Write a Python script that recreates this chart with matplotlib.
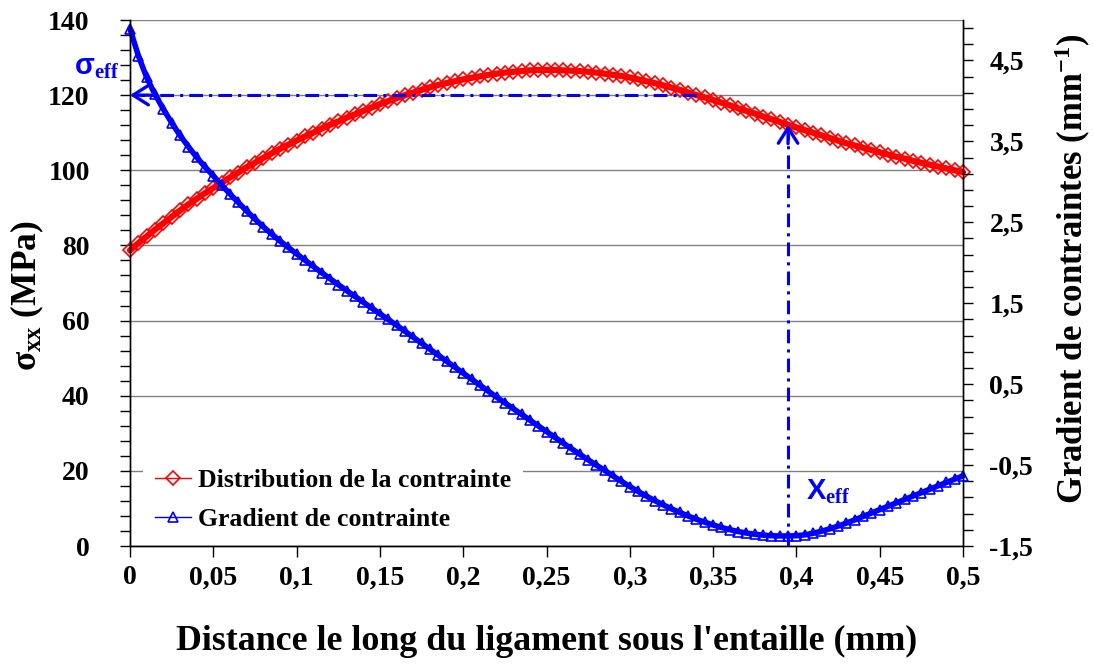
import numpy as np
import matplotlib.pyplot as plt
from matplotlib.ticker import FixedLocator, MultipleLocator, FuncFormatter

# --- Style ---
plt.rcParams['font.family'] = 'Liberation Serif'
plt.rcParams['font.weight'] = 'bold'
plt.rcParams['axes.labelweight'] = 'bold'
plt.rcParams['mathtext.fontset'] = 'custom'
plt.rcParams['mathtext.rm'] = 'Liberation Serif:bold'
plt.rcParams['mathtext.bf'] = 'Liberation Serif:bold'
plt.rcParams['mathtext.it'] = 'Liberation Serif:bold'

# --- Data: distance along the ligament (mm), step 0.005 mm ---
distance = np.linspace(0.0, 0.5, 101)

# sigma_xx (MPa)
sigma_xx = [
    78.7, 80.6, 82.4, 84.2, 85.9, 87.6, 89.3, 90.9, 92.4, 93.9,
    95.3, 96.7, 98.1, 99.4, 100.8, 102.0, 103.3, 104.5, 105.7, 106.8,
    107.9, 109.0, 110.0, 111.1, 112.1, 113.0, 114.0, 114.9, 115.8, 116.7,
    117.6, 118.4, 119.2, 120.0, 120.7, 121.4, 122.1, 122.7, 123.2, 123.7,
    124.2, 124.6, 125.0, 125.4, 125.7, 126.0, 126.2, 126.4, 126.6, 126.7,
    126.7, 126.7, 126.6, 126.5, 126.4, 126.2, 126.0, 125.7, 125.4, 125.1,
    124.7, 124.2, 123.7, 123.2, 122.6, 122.0, 121.4, 120.7, 120.0, 119.4,
    118.7, 118.0, 117.3, 116.5, 115.8, 115.1, 114.3, 113.6, 112.9, 112.1,
    111.4, 110.7, 110.0, 109.3, 108.6, 107.9, 107.2, 106.6, 106.0, 105.4,
    104.8, 104.2, 103.6, 103.1, 102.5, 102.0, 101.5, 101.0, 100.5, 100.0,
    99.5,
]

# stress gradient (mm^-1)
gradient = [
    4.89, 4.56, 4.29, 4.08, 3.90, 3.73, 3.575, 3.435, 3.305, 3.185,
    3.075, 2.96, 2.85, 2.745, 2.64, 2.54, 2.445, 2.355, 2.27, 2.19,
    2.11, 2.032, 1.955, 1.879, 1.804, 1.73, 1.657, 1.585, 1.513, 1.441,
    1.37, 1.299, 1.228, 1.154, 1.080, 1.006, 0.932, 0.858, 0.784, 0.71,
    0.636, 0.562, 0.488, 0.414, 0.340, 0.269, 0.198, 0.127, 0.056, -0.015,
    -0.086, -0.157, -0.228, -0.298, -0.367, -0.435, -0.502, -0.567, -0.635, -0.701,
    -0.765, -0.826, -0.884, -0.939, -0.991, -1.04, -1.086, -1.129, -1.169, -1.206,
    -1.24, -1.271, -1.298, -1.321, -1.34, -1.355, -1.366, -1.373, -1.376, -1.376,
    -1.373, -1.362, -1.343, -1.318, -1.288, -1.254, -1.217, -1.177, -1.135, -1.093,
    -1.051, -1.009, -0.967, -0.925, -0.883, -0.841, -0.799, -0.757, -0.715, -0.674,
    -0.633,
]

# effective stress / effective distance
sigma_eff = 120.0
x_sigma_end = 0.34
x_eff = 0.395
sigma_at_xeff = 112.1

x_ticks = [0, 0.05, 0.1, 0.15, 0.2, 0.25, 0.3, 0.35, 0.4, 0.45, 0.5]
left_ticks = [0, 20, 40, 60, 80, 100, 120, 140]
right_ticks = [-1.5, -0.5, 0.5, 1.5, 2.5, 3.5, 4.5]

RED = '#ff0000'
BLUE = '#0000ff'
comma = FuncFormatter(lambda v, p: f'{v:g}'.replace('.', ','))

fig = plt.figure(figsize=(10.94, 6.64), dpi=100)
ax = fig.add_axes([130 / 1094, 1 - 546 / 664, 833 / 1094, 526 / 664])
ax2 = ax.twinx()

# dense marker bands: a wide stroke under the open markers
ax.plot(distance, sigma_xx, color=RED, lw=4.5, solid_capstyle='round',
        clip_on=False)
red_line, = ax.plot(distance, sigma_xx, color=RED, lw=1, marker='D',
                    ms=7, mfc='none', mec=RED, mew=1.2,
                    label='Distribution de la contrainte', clip_on=False)
ax2.plot(distance, gradient, color=BLUE, lw=4.0, solid_capstyle='round',
         clip_on=False)
blue_line, = ax2.plot(distance, gradient, color=BLUE, lw=1, marker='^',
                      ms=7.5, mfc='none', mec=BLUE, mew=1.2,
                      label='Gradient de contrainte', clip_on=False)

# axes ranges and ticks
ax.set_xlim(0, 0.5)
ax.set_ylim(0, 140)
ax2.set_ylim(-1.5, 5.0)
ax.set_xticks(x_ticks)
ax.set_yticks(left_ticks)
ax.yaxis.set_minor_locator(MultipleLocator(4))
ax2.yaxis.set_major_locator(FixedLocator(right_ticks))
ax2.yaxis.set_minor_locator(FixedLocator(np.arange(-1.5, 5.0, 0.2)))
ax.xaxis.set_major_formatter(comma)
ax2.yaxis.set_major_formatter(comma)

ax.tick_params(axis='x', which='major', direction='out', length=8, width=1,
               pad=6, labelsize=20)
ax.tick_params(axis='y', which='both', direction='out', length=7, width=1,
               pad=22, labelsize=20)
ax2.tick_params(axis='y', which='both', direction='out', length=7, width=1,
                pad=12, labelsize=20)

for a in (ax, ax2):
    a.spines['top'].set_visible(False)
    for s in ('left', 'right', 'bottom'):
        a.spines[s].set_linewidth(1)
ax.yaxis.grid(True, color='#808080', lw=1)
ax.set_axisbelow(True)

ax.set_xlabel("Distance le long du ligament sous l'entaille (mm)", fontsize=25.8)
ax.xaxis.set_label_coords(0.5, -0.15)
ax.set_ylabel(r'σ$_{\mathbf{xx}}$ (MPa)', fontsize=25.5)
ax.yaxis.set_label_coords(-0.101, 0.476)
ax2.set_ylabel(r'Gradient de contraintes (mm$^{\mathbf{-1}}$)', fontsize=25)
ax2.yaxis.set_label_coords(1.108, 0.528)

# dash-dot construction lines, drawn above both curves
dashdot = (0, (4.5, 2, 1, 2))
ax2.plot([x_sigma_end, 0.006], [sigma_eff, sigma_eff], transform=ax.transData,
         color=BLUE, lw=2.2, ls=dashdot, zorder=5)
ax2.plot([x_eff, x_eff], [0, sigma_at_xeff - 2], transform=ax.transData,
         color=BLUE, lw=2.2, ls=dashdot, zorder=5)
arrow = dict(arrowstyle='->,head_length=0.55,head_width=0.35', color=BLUE,
             lw=2.4, shrinkA=0, shrinkB=0, mutation_scale=20)
ax2.annotate('', xy=(0, sigma_eff), xytext=(0.012, sigma_eff),
             xycoords=ax.transData, textcoords=ax.transData,
             arrowprops=arrow, zorder=6)
ax2.annotate('', xy=(x_eff, sigma_at_xeff), xytext=(x_eff, sigma_at_xeff - 5),
             xycoords=ax.transData, textcoords=ax.transData,
             arrowprops=arrow, zorder=6)

ax2.text(-0.0335, 127.5, r'σ$_{\mathbf{eff}}$', transform=ax.transData,
         color=BLUE, fontsize=21, family='Liberation Sans',
         ha='left', va='center', clip_on=False)
ax2.text(0.4055, 14.5, r'X$_{\mathbf{eff}}$', transform=ax.transData,
         color=BLUE, fontsize=21, family='Liberation Sans',
         ha='left', va='center')

leg = ax2.legend(handles=[red_line, blue_line], loc='lower left',
                 bbox_to_anchor=(0.011, 0.0), borderaxespad=0.15, fontsize=18.5,
                 frameon=True, edgecolor='none', facecolor='white',
                 framealpha=1, handlelength=1.4, handletextpad=0.3,
                 labelspacing=0.62, borderpad=0.45, fancybox=False)
leg.set_zorder(10)

fig.savefig('out.png', dpi=100)
